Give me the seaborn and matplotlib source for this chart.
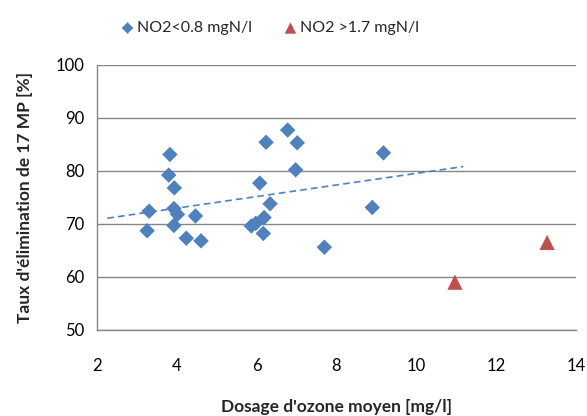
import numpy as np
import pandas as pd
import matplotlib
matplotlib.use("Agg")
import matplotlib.pyplot as plt
import seaborn as sns

# blue series: NO2 < 0.8 mgN/l
low_dose = [3.26, 3.31, 3.80, 3.83, 3.93, 3.94, 4.02, 3.93, 4.24, 4.47, 4.61,
            5.87, 5.98, 6.17, 6.19, 6.08, 6.24, 6.34, 6.78, 7.02, 6.98, 7.70,
            8.90, 9.18]
low_removal = [68.7, 72.4, 79.2, 83.1, 72.9, 76.8, 71.8, 69.7, 67.3, 71.5, 66.8,
               69.6, 70.1, 68.2, 71.2, 77.7, 85.4, 73.8, 87.7, 85.3, 80.2, 65.6,
               73.1, 83.4]

# red series: NO2 > 1.7 mgN/l
high_dose = [10.97, 13.28]
high_removal = [59.0, 66.5]

BLUE = "#4F81BD"
RED = "#C0504D"
GRID = "#868686"

sns.set_style("white")
plt.rcParams['font.family'] = ['Lato', 'DejaVu Sans']

fig = plt.figure(figsize=(5.87, 4.16), dpi=100)
ax = fig.add_axes([0.165, 0.207, 0.816, 0.637])

low = pd.DataFrame({"x": low_dose, "y": low_removal})
high = pd.DataFrame({"x": high_dose, "y": high_removal})

# excel-style linear trendline, backward 1, forward 2
slope, icpt = np.polyfit(low["x"], low["y"], 1)
tx = np.array([low["x"].min() - 1, low["x"].max() + 2])
trend = pd.DataFrame({"x": tx, "y": slope * tx + icpt})
sns.lineplot(data=trend, x="x", y="y", ax=ax, color=BLUE, lw=1.2,
             linestyle=(0, (4, 2.5)), zorder=2, legend=False)

sns.scatterplot(data=low, x="x", y="y", ax=ax, marker="D", s=62, color=BLUE,
                edgecolor="none", zorder=3, label="NO2<0.8 mgN/l")
sns.scatterplot(data=high, x="x", y="y", ax=ax, marker="^", s=120, color=RED,
                edgecolor="none", zorder=3, label="NO2 >1.7 mgN/l")

ax.set_xlim(2, 14)
ax.set_ylim(50, 100)
ax.set_xticks(range(2, 15, 2))
ax.set_yticks(range(50, 101, 10))
ax.yaxis.grid(True, color=GRID, lw=1.0)
ax.set_axisbelow(True)
for side in ["top", "right"]:
    ax.spines[side].set_visible(False)
for side in ["left", "bottom"]:
    ax.spines[side].set_color(GRID)
    ax.spines[side].set_linewidth(1.0)
ax.tick_params(axis="both", direction="out", length=4, width=1.0, color=GRID,
               labelsize=12, labelcolor="black")
ax.tick_params(axis="x", pad=16)
ax.tick_params(axis="y", pad=5)

ax.set_xlabel("Dosage d'ozone moyen [mg/l]", fontsize=12.5, fontweight="bold",
              labelpad=18)
ax.set_ylabel("Taux d'élimination de 17 MP [%]", fontsize=12.5, fontweight="bold",
              labelpad=16)

ax.legend(loc="upper center", bbox_to_anchor=(0.36, 1.22), ncol=2,
          frameon=False, fontsize=11.5, handletextpad=0.1, columnspacing=1.9,
          handlelength=1.0, markerscale=0.75)

fig.savefig("out.png", dpi=100)
